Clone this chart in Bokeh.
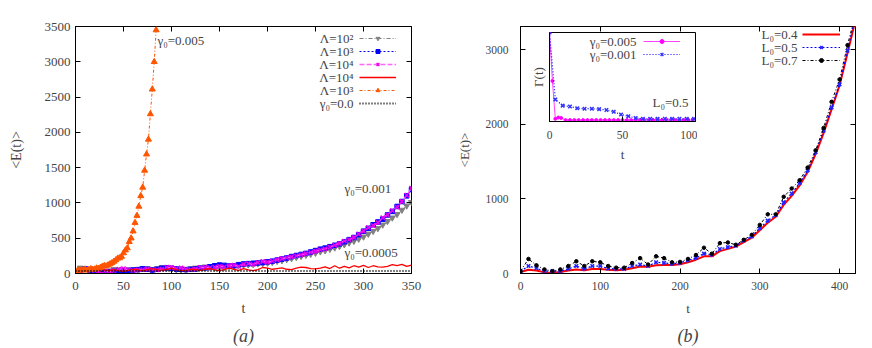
from bokeh.plotting import figure
from bokeh.models import Range1d, FixedTicker, LinearAxis, Legend, LegendItem, Label
from bokeh.layouts import row
from bokeh.embed import file_html
from bokeh.resources import INLINE

FONT = "Liberation Serif"

# ---------------- panel (a) data ----------------
t_a = list(range(0, 355, 5))
e_lam2 = [30, 80, 70, 55, 45, 35, 30, 40, 60, 55, 45, 50, 40, 60, 75, 70, 55, 70, 85, 75,
          65, 55, 50, 60, 70, 80, 85, 95, 90, 80, 75, 90, 100, 105, 115, 120, 125, 130, 140, 145,
          150, 160, 175, 185, 200, 215, 230, 245, 260, 275, 290, 310, 325, 345, 365, 385, 410, 435, 460, 490,
          520, 560, 600, 640, 690, 740, 790, 840, 900, 960, 1010]
e_lam3 = [20, 50, 65, 45, 30, 25, 20, 25, 30, 35, 40, 45, 50, 55, 65, 60, 50, 60, 75, 80,
          75, 65, 60, 55, 60, 65, 75, 80, 95, 110, 120, 115, 105, 110, 125, 135, 140, 145, 150, 155,
          165, 175, 190, 205, 220, 240, 255, 270, 285, 305, 325, 345, 360, 380, 400, 420, 450, 480, 510, 550,
          600, 640, 690, 730, 770, 830, 880, 950, 1020, 1100, 1190]
e_lam4 = [25, 40, 55, 60, 40, 30, 35, 30, 40, 60, 70, 55, 45, 50, 55, 60, 55, 50, 60, 90,
          85, 70, 80, 60, 55, 65, 85, 90, 80, 90, 100, 95, 110, 120, 100, 130, 140, 130, 155, 170,
          160, 175, 195, 210, 225, 235, 250, 265, 280, 300, 315, 335, 350, 375, 400, 425, 460, 480, 510, 560,
          600, 650, 680, 720, 790, 830, 890, 940, 1020, 1110, 1210]
e_lam4_half = [20, 60, 45, 30, 55, 70, 50, 40, 55, 40, 30, 45, 60, 50, 40, 55, 70, 55, 45, 60,
               75, 55, 40, 45, 60, 55, 45, 60, 70, 50, 40, 55, 75, 60, 45, 70, 50, 40, 55, 85,
               75, 60, 70, 80, 60, 55, 75, 90, 85, 70, 65, 75, 95, 70, 110, 75, 100, 80, 110, 90,
               115, 85, 110, 95, 90, 100, 125, 110, 130, 100, 120]
t_zero = list(range(0, 360, 10))
e_zero = [35, 36, 35, 34, 35, 36, 35, 35, 34, 35, 36, 35, 35, 34, 35, 36, 35, 35, 34, 35,
          36, 35, 35, 34, 35, 36, 35, 35, 34, 35, 36, 35, 35, 34, 35, 36]
t_fast = list(range(0, 88, 2))
e_fast = [20, 40, 55, 45, 50, 60, 45, 55, 65, 55, 60, 75, 70, 85, 100, 110, 105, 120, 135, 150,
          170, 190, 215, 220, 240, 290, 330, 360, 450, 500, 600, 720, 820, 950, 1100, 1220, 1460, 1690, 1900, 2260,
          2610, 3000, 3450, 3950]
xticks_a = [0, 50, 100, 150, 200, 250, 300, 350]
yticks_a = [0, 500, 1000, 1500, 2000, 2500, 3000, 3500]
labels_a = ["Λ=10²", "Λ=10³", "Λ=10⁴", "Λ=10⁴", "Λ=10³", "γ₀=0.0"]

# ---------------- panel (b) data ----------------
t_b = list(range(0, 430, 10))
e_L04 = [20, 50, 40, 15, 10, 20, 40, 55, 45, 60, 60, 50, 45, 50, 70, 95, 90, 110, 115, 115,
         125, 150, 185, 230, 230, 300, 330, 360, 420, 480, 580, 680, 760, 920, 1040, 1180, 1360, 1600, 1880, 2200,
         2520, 2950, 3400]
e_L05 = [31, 100, 71, 31, 31, 31, 62, 100, 62, 100, 100, 66, 62, 62, 100, 120, 100, 150, 142, 130,
         142, 177, 208, 266, 252, 328, 354, 372, 443, 496, 607, 709, 784, 953, 1072, 1214, 1382, 1625, 1914, 2224,
         2534, 2986, 3450]
e_L07 = [31, 195, 110, 55, 31, 55, 100, 164, 100, 164, 150, 100, 78, 78, 140, 206, 120, 230, 206, 150,
         155, 195, 248, 345, 265, 407, 416, 385, 451, 518, 651, 793, 793, 1028, 1139, 1250, 1420, 1650, 1950, 2300,
         2600, 3060, 3480]
xticks_b = [0, 100, 200, 300, 400]
yticks_b = [0, 1000, 2000, 3000]
labels_b = ["L₀=0.4", "L₀=0.5", "L₀=0.7"]

# ---------------- inset data ----------------
t_in_fast = [0, 2, 4, 6, 8, 11, 14, 17, 20, 23, 26, 29, 32, 35, 38, 41, 44, 47, 50, 53,
             56, 59, 62, 65, 68, 71, 74, 77, 80, 83, 86, 89, 92, 95, 98]
g_in_fast = [1.0, 0.45, 0.02, 0.035, 0.03, 0.006, 0.006, 0.006, 0.006, 0.006, 0.006, 0.006, 0.006, 0.006,
             0.006, 0.006, 0.006, 0.006, 0.006, 0.006, 0.006, 0.006, 0.006, 0.006, 0.006, 0.006, 0.006,
             0.006, 0.006, 0.006, 0.006, 0.006, 0.006, 0.006, 0.006]
t_in_slow = [0, 4, 9, 14, 19, 24, 29, 34, 39, 44, 49, 54, 59, 64, 69, 74, 79, 84, 89, 94, 99]
g_in_slow = [1.0, 0.24, 0.17, 0.16, 0.14, 0.135, 0.135, 0.13, 0.12, 0.10, 0.07, 0.05, 0.03, 0.02,
             0.02, 0.02, 0.02, 0.02, 0.02, 0.02, 0.02]
xticks_in = [0, 50, 100]
labels_in = ["γ₀=0.005", "γ₀=0.001"]


def style_axis(ax, fs, standoff, label_fs, label_standoff):
    ax.major_tick_in = 5
    ax.major_tick_out = 0
    ax.minor_tick_line_color = None
    ax.major_label_text_font = FONT
    ax.major_label_text_font_size = fs
    ax.major_label_standoff = standoff
    ax.axis_label_text_font = FONT
    ax.axis_label_text_font_style = "normal"
    ax.axis_label_text_font_size = label_fs
    ax.axis_label_standoff = label_standoff
    ax.axis_line_color = "black"
    ax.major_tick_line_color = "black"


def bare_axis(ticks, **kw):
    return LinearAxis(ticker=FixedTicker(ticks=ticks), major_label_text_font_size="1px",
                      major_label_text_color=None, major_tick_in=5, major_tick_out=0,
                      minor_tick_line_color=None, axis_line_color=None, major_label_standoff=0,
                      major_tick_line_color="black", **kw)


def add_mirror(p, xt, yt):
    p.add_layout(bare_axis(xt), "above")
    p.add_layout(bare_axis(yt), "right")


def add_caption(p, s):
    ax = bare_axis([], axis_label=s, axis_label_text_font=FONT, axis_label_text_font_size="18px",
                   axis_label_text_font_style="italic", axis_label_standoff=7)
    p.add_layout(ax, "below")


def text(p, x, y, s, fs, align="left"):
    p.add_layout(Label(x=x, y=y, x_units="screen", y_units="screen", text=s,
                       text_font=FONT, text_font_size=fs, text_align=align,
                       text_baseline="middle"))


def blank_legend(p, groups, loc, width):
    return Legend(items=[LegendItem(label=" ", renderers=rs) for rs in groups],
                  location=loc, padding=0, margin=0, spacing=3, glyph_width=width,
                  glyph_height=10, label_height=10, label_text_font_size="1px",
                  border_line_color=None, background_fill_alpha=0)


# ---------------- figure (a) ----------------
pa = figure(width=448, height=348, x_range=Range1d(0, 350), y_range=Range1d(0, 3500),
            output_backend="svg", toolbar_location=None,
            min_border_left=75, min_border_right=37, min_border_top=26, min_border_bottom=75,
            x_axis_label="t", y_axis_label="<E(t)>")
pa.xgrid.visible = False
pa.ygrid.visible = False
pa.outline_line_color = "black"
pa.xaxis.ticker = FixedTicker(ticks=xticks_a)
pa.yaxis.ticker = FixedTicker(ticks=yticks_a)
style_axis(pa.xaxis[0], "13px", 8, "14px", 8)
style_axis(pa.yaxis[0], "13px", 5, "14px", 18)
add_mirror(pa, xticks_a, yticks_a)
add_caption(pa, "(a)")

r1l = pa.line(t_a, e_lam2, line_color="#808080", line_dash="4 2 1 2", line_width=1)
r1s = pa.scatter(t_a, e_lam2, marker="inverted_triangle", size=6, color="#808080")
r2l = pa.line(t_a, e_lam3, line_color="#0000ff", line_dash="2 2", line_width=1.2)
r2s = pa.scatter(t_a, e_lam3, marker="square", size=4.5, color="#0000ff")
r3l = pa.line(t_a, e_lam4, line_color="#ff66ff", line_dash="5 2", line_width=1.5)
r3s = pa.scatter(t_a, e_lam4, marker="x", size=6, line_width=1.5, color="#ee00ee")
r4l = pa.line(t_a, e_lam4_half, line_color="#ff0000", line_width=1.3)
r5l = pa.line(t_fast, e_fast, line_color="#ff5500", line_dash="3 2 1 2", line_width=1)
r5s = pa.scatter(t_fast, e_fast, marker="triangle", size=6, color="#ff5500")
r6l = pa.line(t_zero, e_zero, line_color="black", line_dash="1 2", line_width=2)

pa.add_layout(blank_legend(pa, ([r1l, r1s], [r2l, r2s], [r3l, r3s], [r4l], [r5l, r5s], [r6l]),
                           (284, 165), 37))
for i, s in enumerate(labels_a):
    text(pa, 278, 235 - 13 * i, s, "13px", align="right")
text(pa, 82, 233, "γ₀=0.005", "13px")
text(pa, 269, 85, "γ₀=0.001", "13px")
text(pa, 269, 21, "γ₀=0.0005", "13px")

# ---------------- figure (b) ----------------
pb = figure(width=424, height=348, x_range=Range1d(0, 420), y_range=Range1d(0, 3310),
            output_backend="svg", toolbar_location=None,
            min_border_left=72, min_border_right=17, min_border_top=25, min_border_bottom=74,
            x_axis_label="t", y_axis_label="<E(t)>")
pb.xgrid.visible = False
pb.ygrid.visible = False
pb.outline_line_color = "black"
pb.xaxis.ticker = FixedTicker(ticks=xticks_b)
pb.yaxis.ticker = FixedTicker(ticks=yticks_b)
style_axis(pb.xaxis[0], "11.5px", 8, "13px", 8)
style_axis(pb.yaxis[0], "11.5px", 12, "13px", 11)
add_mirror(pb, xticks_b, yticks_b)
add_caption(pb, "(b)")

q1 = pb.line(t_b, e_L04, line_color="#ff0000", line_width=2)
q2l = pb.line(t_b, e_L05, line_color="#0000ff", line_dash="2 2", line_width=1.2)
q2s = pb.scatter(t_b, e_L05, marker="x", size=5, line_width=1.6, color="#2222ff")
q3l = pb.line(t_b, e_L07, line_color="black", line_dash="3 2 1 2", line_width=1)
q3s = pb.scatter(t_b, e_L07, marker="circle", size=3.5, color="black")

pb.add_layout(blank_legend(pb, ([q1], [q2l, q2s], [q3l, q3s]), (282, 208), 38))
for i, s in enumerate(labels_b):
    text(pb, 277, 239 - 13 * i, s, "13px", align="right")

# ---------------- inset ----------------
pi = figure(width=176, height=134, x_range=Range1d(0, 100), y_range=Range1d(-0.01, 1.0),
            output_backend="svg", toolbar_location=None,
            min_border_left=28, min_border_right=2, min_border_top=2, min_border_bottom=42,
            x_axis_label="t", y_axis_label="Γ(t)",
            styles={"position": "absolute", "left": "521px", "top": "30px"})
pi.border_fill_color = None
pi.background_fill_color = "white"
pi.xgrid.visible = False
pi.ygrid.visible = False
pi.outline_line_color = "black"
pi.xaxis.ticker = FixedTicker(ticks=xticks_in)
pi.yaxis.ticker = FixedTicker(ticks=[])
style_axis(pi.xaxis[0], "11.5px", 9, "13px", 5)
style_axis(pi.yaxis[0], "1px", 0, "13px", 4)
pi.yaxis.major_label_text_color = None

s1l = pi.line(t_in_fast, g_in_fast, line_color="#ff44ff", line_width=1)
s1s = pi.scatter(t_in_fast, g_in_fast, marker="circle", size=3, color="#ff00ff")
s2l = pi.line(t_in_slow, g_in_slow, line_color="#0000ff", line_dash="1 2", line_width=1.2)
s2s = pi.scatter(t_in_slow, g_in_slow, marker="x", size=5, line_width=1.5, color="#3333ff")

pi.add_layout(blank_legend(pi, ([s1l, s1s], [s2l, s2s]), (94, 62), 37))
for i, s in enumerate(labels_in):
    text(pi, 87, 80 - 13 * i, s, "13px", align="right")
text(pi, 103, 19, "L₀=0.5", "13px")

layout = row(pa, pb)
open("out.html", "w").write(file_html([layout, pi], INLINE))
